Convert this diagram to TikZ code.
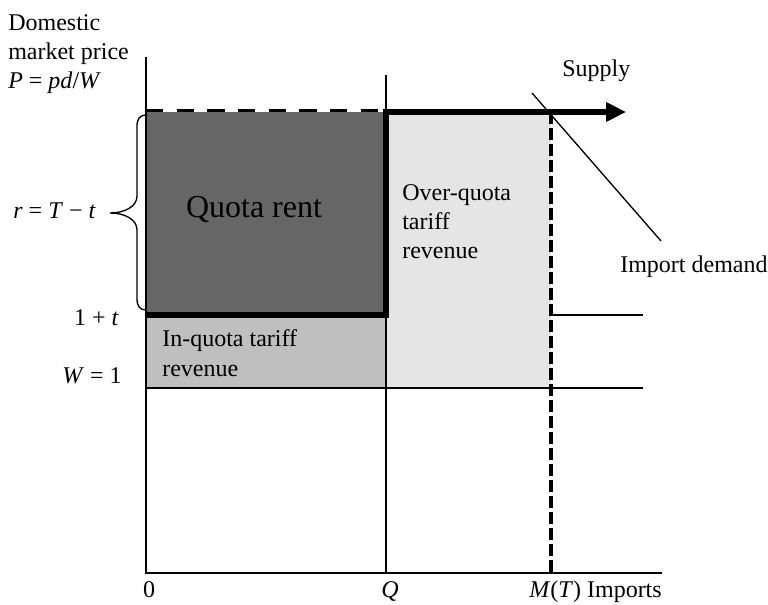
\documentclass[tikz,border=0pt]{standalone}
\usepackage{fontspec}
\setmainfont{Liberation Serif}
\usepackage{tikz}
\usetikzlibrary{arrows.meta}

\definecolor{rentgray}{gray}{0.4}
\definecolor{inquota}{gray}{0.75}
\definecolor{overquota}{gray}{0.9}

\begin{document}
\begin{tikzpicture}[x=0.75pt,y=-0.75pt,inner sep=0pt,
                    font=\fontsize{18}{21.75}\selectfont]
  \tikzstyle{axis}=[line width=1.4pt]
  \tikzstyle{thinline}=[line width=1pt]
  \tikzstyle{heavy}=[line width=5pt,miter limit=10]
  \tikzstyle{lbl}=[align=left]

  \useasboundingbox (0,0) rectangle (768,605);

  \coordinate (O)    at (146,573);
  \coordinate (Ytop) at (146,57);
  \coordinate (Xend) at (662,573);
  \coordinate (Q)    at (386,573);
  \coordinate (Qtop) at (386,75);
  \coordinate (M)    at (551,573);
  \coordinate (P0)   at (146,112);
  \coordinate (PQ)   at (386,112);
  \coordinate (PM)   at (551,112);
  \coordinate (S)    at (626,112);
  \coordinate (T0)   at (146,315);
  \coordinate (TQ)   at (386,315);
  \coordinate (TM)   at (551,315);
  \coordinate (Tend) at (643,315);
  \coordinate (W0)   at (146,388);
  \coordinate (WQ)   at (386,388);
  \coordinate (WM)   at (551,388);
  \coordinate (Wend) at (643,388);
  \coordinate (D1)   at (532,93);
  \coordinate (D2)   at (661,241);

  \fill[overquota] (PQ) rectangle (WM);
  \fill[inquota] (T0) rectangle (WQ);
  \fill[rentgray] (P0) rectangle (TQ);

  \draw[thinline] (Qtop) -- (Q);
  \draw[thinline] (W0) -- (Wend);
  \draw[thinline] (TM) -- (Tend);
  \draw[thinline] (D1) -- (D2);
  \draw[line width=2.2pt,dash pattern=on 13pt off 10pt]
        ([yshift=1.2pt]P0) -- ([yshift=1.2pt]PQ);
  \draw[line width=2.6pt,dash pattern=on 9pt off 3pt] (PM) -- (M);
  \draw[heavy,-{Triangle[length=15pt,width=14pt]}] (T0) -- (TQ) -- (PQ) -- (S);
  \draw[axis] (Ytop) -- (O) -- (Xend);

  \draw[thinline] (147,115) .. controls (139,115) and (137,119) .. (137,127)
        -- (137,196) .. controls (137,207) and (124,213) .. (110,213)
        .. controls (124,213) and (137,219) .. (137,230)
        -- (137,298) .. controls (137,306) and (139,310) .. (147,310);

  \node[lbl,anchor=north west] (price) at (8,14)
        {Domestic\\market price\\\textit{P} = \textit{pd}/\textit{W}};
  \node[anchor=base east] (rlabel) at (96,219) {\textit{r} = \textit{T} − \textit{t}};
  \node[anchor=base east] (tlabel) at (119,326) {1 + \textit{t}};
  \node[anchor=base east] (wlabel) at (122,384) {\textit{W} = 1};
  \node[anchor=base] (rent) at (254,218) {\fontsize{24}{28}\selectfont Quota rent};
  \node[lbl,anchor=north west,font=\fontsize{18}{22.5}\selectfont] (inq) at (162,329)
        {In-quota tariff\\revenue};
  \node[lbl,anchor=north west] (overq) at (402,184) {Over-quota\\tariff\\revenue};
  \node[anchor=base west] (supply) at (562,77) {Supply};
  \node[anchor=base west] (demand) at (620,273) {Import demand};
  \node[anchor=base] (zero) at (149,598) {0};
  \node[anchor=base] (qlabel) at (390,598) {\textit{Q}};
  \node[anchor=base west] (mlabel) at (529,598) {\textit{M}(\textit{T}) Imports};
\end{tikzpicture}
\end{document}
